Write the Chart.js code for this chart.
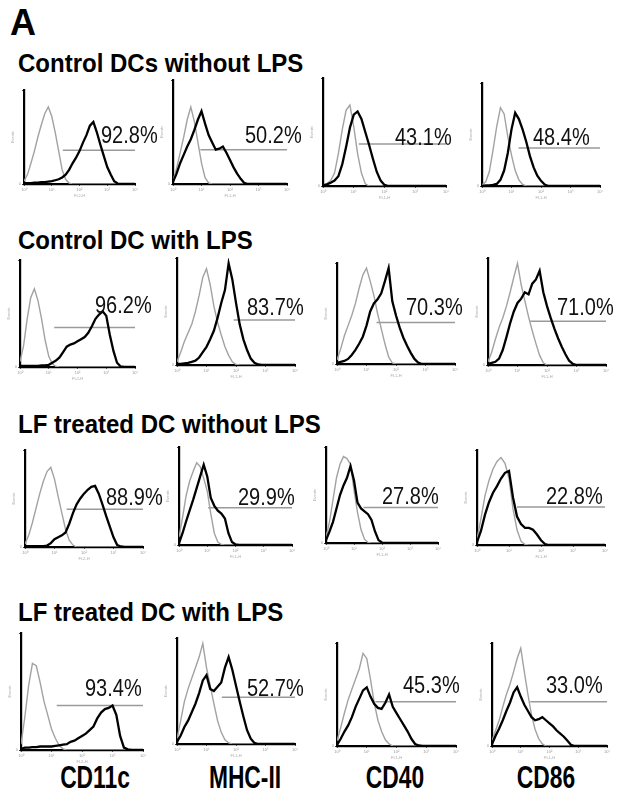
<!DOCTYPE html>
<html><head><meta charset="utf-8">
<script src="https://cdn.jsdelivr.net/npm/chart.js@4/dist/chart.umd.min.js"></script>
<style>
html,body{margin:0;padding:0;background:#fff;}
body{width:619px;height:793px;position:relative;overflow:hidden;font-family:"Liberation Sans",Arial,sans-serif;color:#000;}
.txt{position:absolute;white-space:nowrap;}
.panel{position:absolute;}
</style></head><body>
<script>
// ---------- DATA ----------
// x positions of the histogram channels, in log decades (10^0 .. 10^4)
const decades = [0,0.125,0.25,0.375,0.5,0.625,0.75,0.875,1,1.125,1.25,1.375,1.5,1.625,1.75,1.875,2,2.125,2.25,2.375,2.5,2.625,2.75,2.875,3,3.125,3.25,3.375,3.5,3.625,3.75,3.875,4];
const decadeLabels = ['10\u2070','10\u00B9','10\u00B2','10\u00B3','10\u2074'];
const rowTitles = ['Control DCs without LPS','Control DC with LPS','LF treated DC without LPS','LF treated DC with LPS'];
const markers = ['CD11c','MHC-II','CD40','CD86'];
const channelNames = ['FL2-H','FL1-H','FL1-H','FL1-H'];
const percents = ['92.8%','50.2%','43.1%','48.4%','96.2%','83.7%','70.3%','71.0%','88.9%','29.9%','27.8%','22.8%','93.4%','52.7%','45.3%','33.0%'];
// gate (marker) start in decades and its height in % of the axis
const gateStart = [1.4,0.96,1.16,1.24, 1.19,1.92,1.34,1.43, 1.41,1.03,1.34,1.25, 1.17,1.52,1.29,1.33];
const gateLevel = [36,33,39,37, 37,42,41,41, 39,38,37,40, 38,44,43,43];

// isotype control (grey) and stained (black) histograms, % of axis height
const ctrlNoLPS_CD11c_iso   = [3,10,22,35,50,63,75,82, 72,55,35,15,5,1,0,0, 0,0,0,0,0,0,0,0, 0,0,0,0,0,0,0,0, 0];
const ctrlNoLPS_CD11c_stain = [1,1,1,1.5,1.5,2,2,2.5, 3,4,5,7,10,15,22,28, 35,44,52,62,66,55,42,30, 18,10,3,0.5,0,0,0,0, 0];
const ctrlNoLPS_MHCII_iso   = [3,15,30,45,62,74,60,40, 20,6,1,0,0,0,0,0, 0,0,0,0,0,0,0,0, 0,0,0,0,0,0,0,0, 0];
const ctrlNoLPS_MHCII_stain = [2,10,20,28,36,43,52,62, 70,58,47,40,33,34,36,30, 23,16,10,5,1,0,0,0, 0,0,0,0,0,0,0,0, 0];
const ctrlNoLPS_CD40_iso    = [1,2,5,12,30,52,70,75, 55,30,12,2,0,0,0,0, 0,0,0,0,0,0,0,0, 0,0,0,0,0,0,0,0, 0];
const ctrlNoLPS_CD40_stain  = [0.5,1.5,3,5,9,20,36,54, 66,69,62,50,38,25,13,5, 1,0,0,0,0,0,0,0, 0,0,0,0,0,0,0,0, 0];
const ctrlNoLPS_CD86_iso    = [1,4,14,35,58,76,70,48, 30,15,6,1.5,0,0,0,0, 0,0,0,0,0,0,0,0, 0,0,0,0,0,0,0,0, 0];
const ctrlNoLPS_CD86_stain  = [0,0.5,0.5,1,2,6,15,32, 55,71,65,55,43,29,18,10, 5,1.5,0,0,0,0,0,0, 0,0,0,0,0,0,0,0, 0];

const ctrlLPS_CD11c_iso     = [5,20,45,65,73,62,45,25, 10,3,0.5,0,0,0,0,0, 0,0,0,0,0,0,0,0, 0,0,0,0,0,0,0,0, 0];
const ctrlLPS_CD11c_stain   = [1,1,1,1,1,1,1.5,1.5, 2,4,6,9,14,19,21,22, 24,26,28,32,38,45,49,52, 48,30,15,4,0.5,0,0,0, 0];
const ctrlLPS_MHCII_iso     = [3,12,22,30,38,50,65,82, 90,75,55,40,28,17,9,3, 0.5,0,0,0,0,0,0,0, 0,0,0,0,0,0,0,0, 0];
const ctrlLPS_MHCII_stain   = [1,1,1.5,2,3,4,7,12, 17,24,32,44,58,70,95,80, 58,38,24,14,6,2,0.5,0, 0,0,0,0,0,0,0,0, 0];
const ctrlLPS_CD40_iso      = [4,15,28,38,48,60,75,88, 95,82,68,50,35,20,7,1, 0,0,0,0,0,0,0,0, 0,0,0,0,0,0,0,0, 0];
const ctrlLPS_CD40_stain    = [1,2,3,5,9,14,20,27, 38,52,60,64,70,82,95,62, 48,36,26,18,11,5,1.5,0, 0,0,0,0,0,0,0,0, 0];
const ctrlLPS_CD86_iso      = [3,12,24,35,44,55,68,82, 95,75,60,45,32,20,9,2, 0,0,0,0,0,0,0,0, 0,0,0,0,0,0,0,0, 0];
const ctrlLPS_CD86_stain    = [1,2,3,6,14,26,39,50, 58,62,68,66,76,80,88,68, 55,44,34,25,17,10,4,1, 0,0,0,0,0,0,0,0, 0];

const lfNoLPS_CD11c_iso     = [3,12,25,40,55,68,78,82, 70,52,35,18,7,2,0,0, 0,0,0,0,0,0,0,0, 0,0,0,0,0,0,0,0, 0];
const lfNoLPS_CD11c_stain   = [1,1,1,1,1,1,1.5,4, 8,10,12,15,24,35,44,50, 55,59,62,63,55,44,32,21, 10,2,0.5,0,0,0,0,0, 0];
const lfNoLPS_MHCII_iso     = [8,28,50,65,75,84,80,68, 55,32,12,3,0.5,0,0,0, 0,0,0,0,0,0,0,0, 0,0,0,0,0,0,0,0, 0];
const lfNoLPS_MHCII_stain   = [2,12,24,35,46,58,70,82, 70,48,40,35,32,27,12,3, 0.5,0,0,0,0,0,0,0, 0,0,0,0,0,0,0,0, 0];
const lfNoLPS_CD40_iso      = [6,22,45,68,82,90,88,82, 55,32,14,4,0.5,0,0,0, 0,0,0,0,0,0,0,0, 0,0,0,0,0,0,0,0, 0];
const lfNoLPS_CD40_stain    = [3,12,22,36,50,60,68,80, 65,42,36,33,30,24,12,3, 0.5,0,0,0,0,0,0,0, 0,0,0,0,0,0,0,0, 0];
const lfNoLPS_CD86_iso      = [6,28,52,68,80,88,92,86, 70,38,16,4,0.5,0,0,0, 0,0,0,0,0,0,0,0, 0,0,0,0,0,0,0,0, 0];
const lfNoLPS_CD86_stain    = [3,15,32,45,55,62,70,76, 78,50,30,22,18,18,16,11, 5,1,0,0,0,0,0,0, 0,0,0,0,0,0,0,0, 0];

const lfLPS_CD11c_iso       = [5,28,55,74,72,58,42,30, 18,10,4,1,0,0,0,0, 0,0,0,0,0,0,0,0, 0,0,0,0,0,0,0,0, 0];
const lfLPS_CD11c_stain     = [1,2,2,2.5,2.5,3,3,3, 3,3.5,4,4.5,5,7,8,10, 12,14,17,20,27,32,35,36, 38,30,12,2,0.5,0,0,0, 0];
const lfLPS_MHCII_iso       = [5,22,40,52,62,72,82,95, 72,55,38,22,11,4,1,0, 0,0,0,0,0,0,0,0, 0,0,0,0,0,0,0,0, 0];
const lfLPS_MHCII_stain     = [2,8,16,22,30,38,48,60, 65,52,50,54,58,72,82,70, 55,40,26,13,5,1,0,0, 0,0,0,0,0,0,0,0, 0];
const lfLPS_CD40_iso        = [5,18,32,45,55,65,75,90, 85,65,42,25,14,6,2,0, 0,0,0,0,0,0,0,0, 0,0,0,0,0,0,0,0, 0];
const lfLPS_CD40_stain      = [1,7,14,20,28,38,46,54, 57,48,41,37,36,42,50,38, 32,26,20,14,7,2,0.5,0, 0,0,0,0,0,0,0,0, 0];
const lfLPS_CD86_iso        = [5,15,25,38,50,60,72,85, 95,72,50,30,16,7,2,0, 0,0,0,0,0,0,0,0, 0,0,0,0,0,0,0,0, 0];
const lfLPS_CD86_stain      = [2,10,17,25,34,42,52,57, 48,40,34,28,25,26,28,25, 22,19,15,12,9,5,1,0, 0,0,0,0,0,0,0,0, 0];

const isoSeries = [
  ctrlNoLPS_CD11c_iso, ctrlNoLPS_MHCII_iso, ctrlNoLPS_CD40_iso, ctrlNoLPS_CD86_iso,
  ctrlLPS_CD11c_iso, ctrlLPS_MHCII_iso, ctrlLPS_CD40_iso, ctrlLPS_CD86_iso,
  lfNoLPS_CD11c_iso, lfNoLPS_MHCII_iso, lfNoLPS_CD40_iso, lfNoLPS_CD86_iso,
  lfLPS_CD11c_iso, lfLPS_MHCII_iso, lfLPS_CD40_iso, lfLPS_CD86_iso];
const stainSeries = [
  ctrlNoLPS_CD11c_stain, ctrlNoLPS_MHCII_stain, ctrlNoLPS_CD40_stain, ctrlNoLPS_CD86_stain,
  ctrlLPS_CD11c_stain, ctrlLPS_MHCII_stain, ctrlLPS_CD40_stain, ctrlLPS_CD86_stain,
  lfNoLPS_CD11c_stain, lfNoLPS_MHCII_stain, lfNoLPS_CD40_stain, lfNoLPS_CD86_stain,
  lfLPS_CD11c_stain, lfLPS_MHCII_stain, lfLPS_CD40_stain, lfLPS_CD86_stain];

// ---------- LAYOUT (page positions, not data) ----------
const plotBoxes = [
  [24,90,135,184],[173,80,287,184],[323,78,446,186],[482,83,600,186],
  [20,260,135,367],[177,258,295,365],[337,263,455,364],[488,258,606,365],
  [25,450,143,547],[179,447,292,545],[326,447,438,543],[477,450,605,545],
  [21,633,143,750],[177,638,295,744],[337,643,456,746],[492,643,607,746]];
const pctAnchors = [[101,135],[245,135],[395,137],[533,137],[95,305],[247,307],[406,307],[557,307],
  [106,497],[238,497],[382,496],[546,496],[85,688],[247,688],[403,685],[546,685]];
const titleCenters = [62.5,240,424,612];
const markerCenters = [95,245,395,546];

function addText(str, css){
  const d=document.createElement('div'); d.className='txt'; d.textContent=str;
  d.style.cssText += css; document.body.appendChild(d); return d;
}
addText('A','left:10px;top:4px;font:bold 36px/36px "Liberation Sans",Arial,sans-serif;transform:scaleY(1.05);transform-origin:left center;');
rowTitles.forEach((t,i)=>addText(t,`left:18px;top:${titleCenters[i]-12}px;font:bold 24px/24px "Liberation Sans",Arial,sans-serif;transform:scaleY(1.1);transform-origin:left center;`));
markers.forEach((t,i)=>addText(t,`left:${markerCenters[i]-60}px;width:120px;text-align:center;top:${778-12}px;font:bold 24px/24px "Liberation Sans",Arial,sans-serif;transform:scale(0.95,1.28);transform-origin:center center;`));

const M={l:14,t:4,r:8,b:14};
function buildChart(cv, i){
  const col=i%4;
  return new Chart(cv,{
    type:'line',
    data:{datasets:[
      {data:decades.map((x,k)=>({x,y:stainSeries[i][k]})),borderColor:'#000',borderWidth:2.3,pointRadius:0,tension:0,order:0},
      {data:decades.map((x,k)=>({x,y:isoSeries[i][k]})),borderColor:'#a2a2a2',borderWidth:1.4,pointRadius:0,tension:0,order:1},
      {data:[{x:gateStart[i],y:gateLevel[i]},{x:decades[decades.length-1],y:gateLevel[i]}],borderColor:'#9a9a9a',borderWidth:1.5,pointRadius:0,order:2}
    ]},
    options:{
      responsive:false,animation:false,devicePixelRatio:1,
      layout:{padding:{left:0,top:M.t,right:M.r,bottom:0}},
      plugins:{legend:{display:false},tooltip:{enabled:false}},
      scales:{
        x:{type:'linear',min:0,max:4,
          afterFit(s){s.height=M.b;},
          border:{color:'#000',width:2.2},
          grid:{drawOnChartArea:false,drawTicks:true,tickLength:2,color:'#444'},
          ticks:{stepSize:1,autoSkip:false,maxRotation:0,padding:1,font:{size:4},color:'#999',callback:v=>decadeLabels[v]},
          title:{display:true,text:channelNames[col],font:{size:4},color:'#aaa',padding:0}},
        y:{min:0,max:100,
          afterFit(s){s.width=M.l;},
          border:{color:'#000',width:2.2},
          grid:{drawOnChartArea:false,drawTicks:true,tickLength:2,color:'#444'},
          ticks:{stepSize:100,padding:1,font:{size:4},color:'#999',callback:v=>v===0?'0':''},
          title:{display:true,text:'Events',font:{size:4},color:'#aaa',padding:0}}
      }
    }
  });
}

plotBoxes.forEach((b,i)=>{
  const [x0,y0,x1,y1]=b;
  let w=x1-x0+M.l+M.r, h=y1-y0+M.t+M.b;
  const wrap=document.createElement('div'); wrap.className='panel';
  document.body.appendChild(wrap);
  function make(){
    wrap.innerHTML='';
    wrap.style.width=w+'px'; wrap.style.height=h+'px';
    const cv=document.createElement('canvas'); cv.width=w; cv.height=h;
    cv.style.width=w+'px'; cv.style.height=h+'px';
    wrap.appendChild(cv);
    return buildChart(cv,i);
  }
  let ch=make();
  let a=ch.chartArea;
  const dw=(x1-x0)-(a.right-a.left), dh=(y1-y0)-(a.bottom-a.top);
  if(Math.abs(dw)>0.5||Math.abs(dh)>0.5){ ch.destroy(); w+=Math.round(dw); h+=Math.round(dh); ch=make(); a=ch.chartArea; }
  wrap.style.left=(x0-a.left)+'px'; wrap.style.top=(y0-a.top)+'px';
});

percents.forEach((p,i)=>addText(p,`left:${pctAnchors[i][0]}px;top:${pctAnchors[i][1]-10}px;font:20px/20px "Liberation Sans",Arial,sans-serif;color:#111;transform:scaleY(1.15);transform-origin:left center;`));
</script>
</body></html>
